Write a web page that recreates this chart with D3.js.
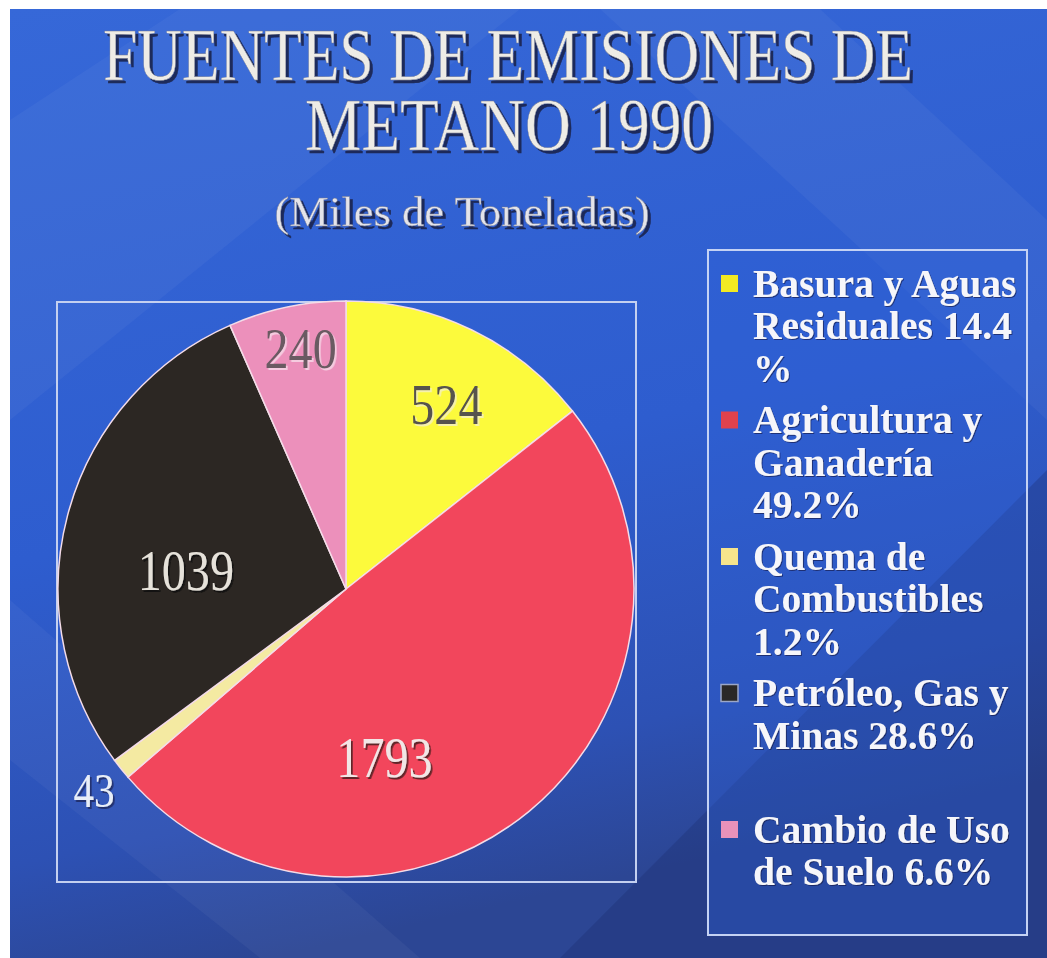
<!DOCTYPE html>
<html>
<head>
<meta charset="utf-8">
<script src="https://cdn.jsdelivr.net/npm/d3@7"></script>
<style>
  html, body { margin: 0; padding: 0; background: #ffffff; }
  svg { display: block; }
</style>
</head>
<body>
<svg id="chart"></svg>
<script>
// data
const categories = ["Basura y Aguas Residuales", "Agricultura y Ganadería", "Quema de Combustibles", "Petróleo, Gas y Minas", "Cambio de Uso de Suelo"];
const values = [524, 1793, 43, 1039, 240];
const percents = ["14.4", "49.2", "1.2", "28.6", "6.6"];
const legendLines = [
    ["Basura y Aguas", "Residuales 14.4", "%"],
    ["Agricultura y", "Ganadería", "49.2%"],
    ["Quema de", "Combustibles", "1.2%"],
    ["Petróleo, Gas y", "Minas 28.6%", ""],
    ["Cambio de Uso", "de Suelo 6.6%"]
];
const titleLines = ["FUENTES DE EMISIONES DE", "METANO 1990"];
const subtitle = "(Miles de Toneladas)";

const sliceColors = ["#fcfa3c", "#f2465c", "#f4eaa2", "#2c2723", "#ec90bb"];
const markerColors = ["#f2ea22", "#e0424c", "#f6e48c", "#2a2826", "#e892ba"];
// label placement inside each slice: position along the slice (0..1) and radius factor
const labelPos = [0.55, 0.65, 0.5, 0.42, 0.55];
const labelRad = [0.73, 0.6, 1.12, 0.56, 0.85];
const labelFill = ["#57524e", "#f2e6e6", "#e8eef8", "#e6e2da", "#6a5a62"];
const labelShadow = ["#f4f0c0", "#4a1a24", "#1a2a60", "#0e0c0a", "#f6d6e6"];

let width = 1047;
let height = 958;
let serif = "'Liberation Serif', 'Times New Roman', serif";

let svg = d3.select("#chart")
    .attr("width", width)
    .attr("height", height);

let defs = svg.append("defs");

let bg = defs.append("linearGradient")
    .attr("id", "bgGrad")
    .attr("x1", 0).attr("y1", 0).attr("x2", 0.25).attr("y2", 1);
bg.append("stop").attr("offset", "0%").attr("stop-color", "#3668d8");
bg.append("stop").attr("offset", "55%").attr("stop-color", "#2e5dcf");
bg.append("stop").attr("offset", "85%").attr("stop-color", "#2d51b4");
bg.append("stop").attr("offset", "100%").attr("stop-color", "#2c4694");

// drop shadow filters, one per shadow colour
function shadowFilter(id, color, dx, dy, op) {
    defs.append("filter")
        .attr("id", id)
        .attr("x", "-20%").attr("y", "-30%")
        .attr("width", "140%").attr("height", "160%")
        .append("feDropShadow")
        .attr("dx", dx).attr("dy", dy)
        .attr("stdDeviation", 0.6)
        .attr("flood-color", color)
        .attr("flood-opacity", op);
}
shadowFilter("titleShadow", "#121a44", 3, 3, 0.85);
shadowFilter("legendShadow", "#0a143c", 1, 1, 0.6);
labelShadow.forEach((c, i) => shadowFilter("lab" + i, c, 2, 2, 0.85));

// slide background (scan has a white margin at top and left)
svg.append("rect")
    .attr("x", 10).attr("y", 9)
    .attr("width", width - 10).attr("height", height - 9)
    .attr("fill", "url(#bgGrad)");

// soft diagonal bands of the slide template
let bands = [
    [[10, 120], [180, 9], [520, 9], [10, 420]],
    [[600, 9], [820, 9], [1047, 220], [1047, 420]],
    [[10, 600], [10, 760], [260, 958], [420, 958]]
];
svg.append("g").selectAll("path")
    .data(bands)
    .enter().append("path")
    .attr("d", d => "M" + d.join("L") + "Z")
    .attr("fill", "#ffffff")
    .attr("opacity", 0.04);

// darker lower right corner
svg.append("path")
    .attr("d", "M560,958L1047,470L1047,958Z")
    .attr("fill", "#1c2c6a")
    .attr("opacity", 0.3);

// title
function titleText(txt, x, y, size, len, fill) {
    svg.append("text")
        .attr("x", x).attr("y", y)
        .attr("text-anchor", "middle")
        .attr("font-family", serif)
        .attr("font-size", size)
        .attr("textLength", len)
        .attr("lengthAdjust", "spacingAndGlyphs")
        .attr("fill", fill)
        .attr("stroke", "#70768f")
        .attr("stroke-width", 0.4)
        .attr("filter", "url(#titleShadow)")
        .text(txt);
}

titleText(titleLines[0], 508, 80, 73, 810, "#eeece6");
titleText(titleLines[1], 509, 150, 73, 408, "#eeece6");
titleText(subtitle, 462, 226, 42, 375, "#e4e4ea");

// pie
let cx = 346, cy = 589, radius = 288;

svg.append("rect")
    .attr("x", 57).attr("y", 302)
    .attr("width", 579).attr("height", 580)
    .attr("fill", "none")
    .attr("stroke", "#c4d0f0")
    .attr("stroke-width", 2);

let pie = d3.pie().sort(null).value(d => d);
let arcs = pie(values);
let arc = d3.arc().innerRadius(0).outerRadius(radius);

let pieG = svg.append("g").attr("transform", "translate(" + cx + "," + cy + ")");

pieG.selectAll("path")
    .data(arcs)
    .enter().append("path")
    .attr("d", arc)
    .attr("fill", (d, i) => sliceColors[i])
    .attr("stroke", "#f4dce8")
    .attr("stroke-width", 1.5);

function labelXY(d, i) {
    let a = d.startAngle + (d.endAngle - d.startAngle) * labelPos[i];
    let r = radius * labelRad[i];
    return [Math.sin(a) * r, -Math.cos(a) * r];
}

pieG.append("g").selectAll("text")
    .data(arcs)
    .enter().append("text")
    .attr("transform", (d, i) => {
        let p = labelXY(d, i);
        return "translate(" + p[0] + "," + p[1] + ") scale(0.86,1)";
    })
    .attr("text-anchor", "middle")
    .attr("dy", "0.35em")
    .attr("font-family", serif)
    .attr("font-size", (d, i) => i === 2 ? 48 : 56)
    .attr("fill", (d, i) => labelFill[i])
    .attr("filter", (d, i) => "url(#lab" + i + ")")
    .text(d => d.data);

// legend
svg.append("rect")
    .attr("x", 708).attr("y", 250)
    .attr("width", 319).attr("height", 685)
    .attr("fill", "#2f62d6")
    .attr("fill-opacity", 0.35)
    .attr("stroke", "#c4d2f4")
    .attr("stroke-width", 2);

let legendG = svg.append("g");
let lineH = 42.5, itemGap = 9, firstY = 283;
let lineIdx = 0;
legendLines.forEach(function (lines, i) {
    let y0 = firstY + lineIdx * lineH + i * itemGap;
    legendG.append("rect")
        .attr("x", 721).attr("y", y0 - 8)
        .attr("width", 17).attr("height", 17)
        .attr("fill", markerColors[i])
        .attr("stroke", i === 3 ? "#9aa6c8" : "none")
        .attr("stroke-width", 1.5);
    lines.forEach(function (t, j) {
        if (t === "") return;
        legendG.append("text")
            .attr("x", 753).attr("y", y0 + j * lineH)
            .attr("dy", "0.35em")
            .attr("font-family", serif)
            .attr("font-size", 39.5)
            .attr("font-weight", "bold")
            .attr("fill", "#f6f6fa")
            .attr("filter", "url(#legendShadow)")
            .text(t);
    });
    lineIdx += lines.length;
});
</script>
</body>
</html>
